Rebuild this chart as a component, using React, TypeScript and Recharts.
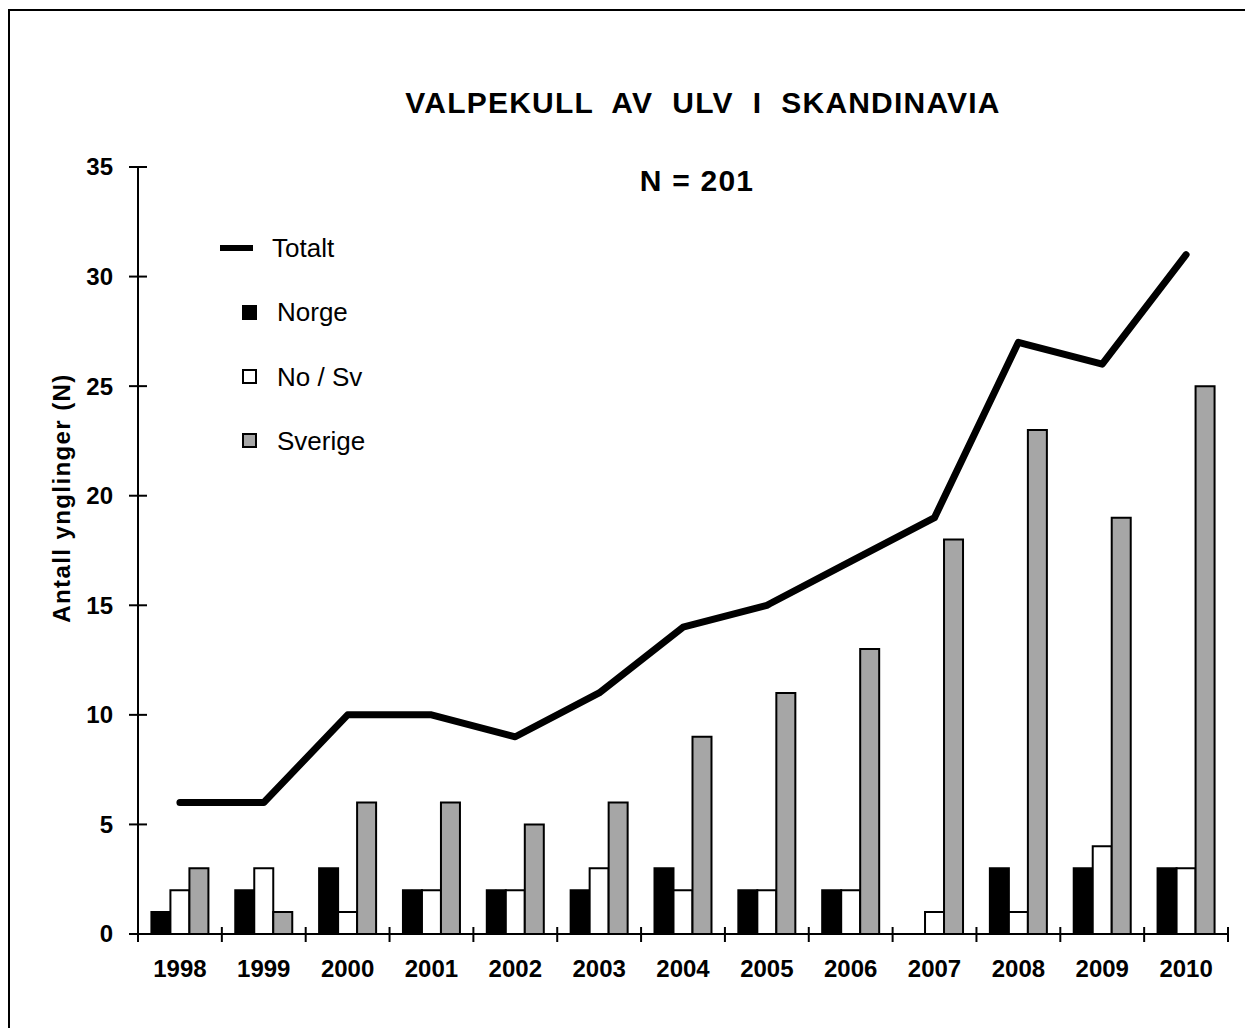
import React from 'react';
import { ComposedChart, Bar, Line, XAxis, YAxis, Legend } from 'recharts';

const years = ['1998', '1999', '2000', '2001', '2002', '2003', '2004', '2005', '2006', '2007', '2008', '2009', '2010'];
const norge = [1, 2, 3, 2, 2, 2, 3, 2, 2, 0, 3, 3, 3];
const noSv = [2, 3, 1, 2, 2, 3, 2, 2, 2, 1, 1, 4, 3];
const sverige = [3, 1, 6, 6, 5, 6, 9, 11, 13, 18, 23, 19, 25];
const totalt = [6, 6, 10, 10, 9, 11, 14, 15, 17, 19, 27, 26, 31];
const yTicks = [0, 5, 10, 15, 20, 25, 30, 35];
const legendOrder = ['Totalt', 'Norge', 'No / Sv', 'Sverige'];

const title = 'VALPEKULL  AV  ULV  I  SKANDINAVIA';
const subtitle = 'N = 201';
const yLabel = 'Antall ynglinger (N)';

const data = years.map((y, i) => ({
  year: y,
  Norge: norge[i],
  NoSv: noSv[i],
  Sverige: sverige[i],
  Totalt: totalt[i],
}));

const FONT = '"Liberation Sans", Arial, Helvetica, sans-serif';
const W = 1240;
const H = 1010;
const MARGIN = { top: 156, right: 22, bottom: 27, left: 48 };
const Y_AXIS_W = 80;
const X_AXIS_H = 60;
const Y_TICK_MARGIN = 25;
const X_TICK_MARGIN = 34;
const HALF_BAND = (W - MARGIN.left - MARGIN.right - Y_AXIS_W) / years.length / 2;

const YTick = (props: any) => {
  const { x, y, payload } = props;
  const ax = x + Y_TICK_MARGIN;
  return (
    <g>
      <line x1={ax - 9} x2={ax + 9} y1={y} y2={y} stroke="#000" strokeWidth={2} />
      <text x={x} y={y} dy="0.35em" textAnchor="end" fontFamily={FONT} fontWeight="bold" fontSize={24} fill="#000">
        {payload.value}
      </text>
    </g>
  );
};

const XTick = (props: any) => {
  const { x, y, payload, index } = props;
  const half = payload && typeof payload.offset === 'number' && payload.offset > 0 ? payload.offset : HALF_BAND;
  const ay = y - X_TICK_MARGIN;
  const last = index === years.length - 1;
  return (
    <g>
      <line x1={x - half} x2={x - half} y1={ay - 7} y2={ay + 8} stroke="#000" strokeWidth={2} />
      {last && <line x1={x + half} x2={x + half} y1={ay - 7} y2={ay + 8} stroke="#000" strokeWidth={2} />}
      <text x={x} y={y} dy="0.36em" textAnchor="middle" fontFamily={FONT} fontWeight="bold" fontSize={24} fill="#000">
        {payload.value}
      </text>
    </g>
  );
};

const LegendContent = (props: any) => {
  const payload = [...(props.payload || [])];
  payload.sort((a: any, b: any) => legendOrder.indexOf(a.value) - legendOrder.indexOf(b.value));
  return (
    <div style={{ position: 'relative', fontFamily: FONT }}>
      {payload.map((entry: any, i: number) => {
        const isLine = entry.type === 'line';
        return (
          <div key={i} style={{ position: 'relative', height: 64.3 }}>
            {isLine ? (
              <div style={{ position: 'absolute', left: 0, top: 29, width: 33, height: 6, background: '#000' }} />
            ) : (
              <div
                style={{
                  position: 'absolute',
                  left: 22,
                  top: 24.5,
                  width: 15,
                  height: 15,
                  boxSizing: 'border-box',
                  border: '2px solid #000',
                  background: entry.color,
                }}
              />
            )}
            <div
              style={{
                position: 'absolute',
                left: isLine ? 52 : 57,
                top: 19,
                lineHeight: '26px',
                fontSize: 26,
                color: '#000',
                whiteSpace: 'nowrap',
              }}
            >
              {entry.value}
            </div>
          </div>
        );
      })}
    </div>
  );
};

export default function App() {
  return (
    <div style={{ position: 'fixed', left: 8, top: 9, width: 1237, height: 1019, overflow: 'hidden' }}>
      <div
        style={{
          position: 'relative',
          width: 1300,
          height: 1100,
          border: '2px solid #000',
          boxSizing: 'border-box',
          background: '#fff',
        }}
      >
        <div style={{ position: 'absolute', left: 0, top: 0 }}>
          <ComposedChart width={W} height={H} data={data} margin={MARGIN} barCategoryGap="16%" barGap={0}>
            <XAxis
              dataKey="year"
              height={X_AXIS_H}
              axisLine={{ stroke: '#000', strokeWidth: 2 }}
              tickLine={false}
              tickSize={0}
              tickMargin={X_TICK_MARGIN}
              tick={<XTick />}
              interval={0}
            />
            <YAxis
              width={Y_AXIS_W}
              domain={[0, 35]}
              ticks={yTicks}
              interval={0}
              axisLine={{ stroke: '#000', strokeWidth: 2 }}
              tickLine={false}
              tickSize={0}
              tickMargin={Y_TICK_MARGIN}
              tick={<YTick />}
              allowDataOverflow
            />
            <Bar dataKey="Norge" name="Norge" fill="#000000" stroke="#000" strokeWidth={2} isAnimationActive={false} />
            <Bar dataKey="NoSv" name="No / Sv" fill="#ffffff" stroke="#000" strokeWidth={2} isAnimationActive={false} />
            <Bar dataKey="Sverige" name="Sverige" fill="#a6a6a6" stroke="#000" strokeWidth={2} isAnimationActive={false} />
            <Line
              type="linear"
              dataKey="Totalt"
              name="Totalt"
              stroke="#000"
              strokeWidth={7}
              strokeLinecap="round"
              strokeLinejoin="round"
              dot={false}
              activeDot={false}
              legendType="line"
              isAnimationActive={false}
            />
            <Legend
              layout="vertical"
              align="center"
              verticalAlign="middle"
              content={<LegendContent />}
              wrapperStyle={{ left: 210, top: 205, width: 220, height: 260 }}
            />
          </ComposedChart>
        </div>
        <div
          style={{
            position: 'absolute',
            left: 693 - 450,
            width: 900,
            top: 77,
            textAlign: 'center',
            fontFamily: FONT,
            fontWeight: 'bold',
            fontSize: 30,
            lineHeight: '30px',
            letterSpacing: 1.2,
            whiteSpace: 'pre',
            color: '#000',
          }}
        >
          {title}
        </div>
        <div
          style={{
            position: 'absolute',
            left: 687 - 200,
            width: 400,
            top: 155,
            textAlign: 'center',
            fontFamily: FONT,
            fontWeight: 'bold',
            fontSize: 30,
            lineHeight: '30px',
            letterSpacing: 1.2,
            whiteSpace: 'pre',
            color: '#000',
          }}
        >
          {subtitle}
        </div>
        <div
          style={{
            position: 'absolute',
            left: 52 - 200,
            top: 487 - 14,
            width: 400,
            height: 28,
            lineHeight: '28px',
            textAlign: 'center',
            transform: 'rotate(-90deg)',
            fontFamily: FONT,
            fontWeight: 'bold',
            fontSize: 24,
            letterSpacing: 1.4,
            whiteSpace: 'nowrap',
            color: '#000',
          }}
        >
          {yLabel}
        </div>
      </div>
    </div>
  );
}
